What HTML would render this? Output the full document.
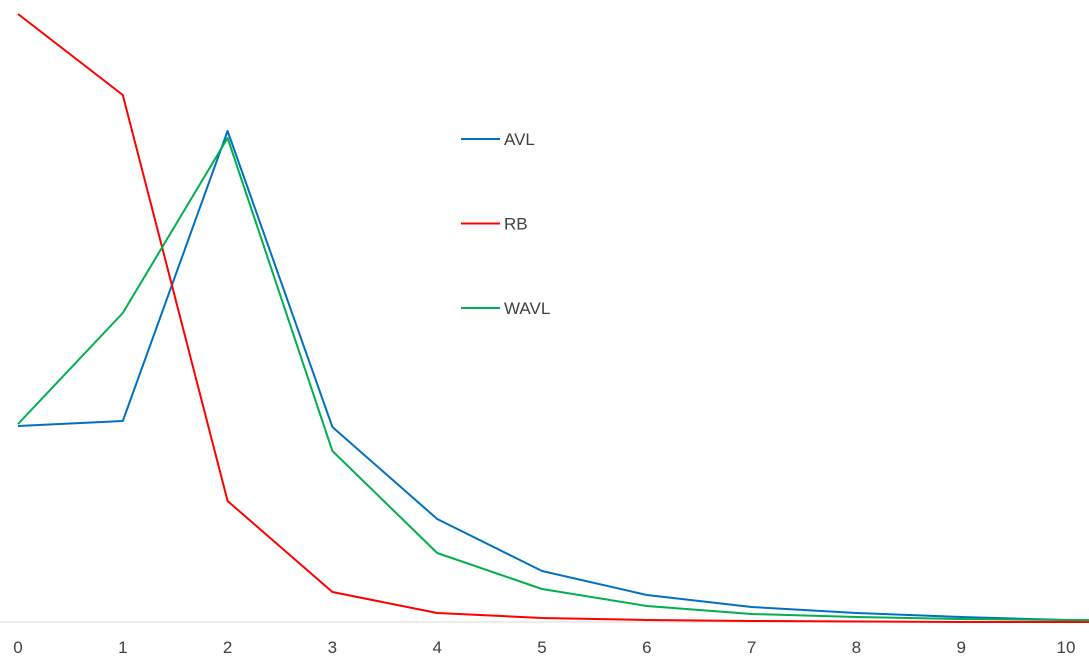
<!DOCTYPE html>
<html><head><meta charset="utf-8"><style>
body{margin:0;background:#fff;overflow:hidden;}
svg{display:block;font-family:"Liberation Sans",sans-serif;}
</style></head><body>
<svg id="chart" width="1089" height="664"></svg>
<script>
const categories=[0,1,2,3,4,5,6,7,8,9,10,11];
const avl=[196,201,491,195,103,51,27,15,9,5,2,1];
const rb=[608,527,121,30,9,4,2,1,0.5,0,0,0];
const wavl=[198,309,484,171,69,33,16,8,5,3,2,1];
const seriesNames=["AVL","RB","WAVL"];
const seriesColors=["#0070C0","#FF0000","#00B050"];
const NS="http://www.w3.org/2000/svg";
const svg=document.getElementById('chart');
const x=i=>18+i*104.8;
const y=v=>622-v;
function mk(t,a){const e=document.createElementNS(NS,t);for(const k in a)e.setAttribute(k,a[k]);svg.appendChild(e);return e;}
const ax=mk('line',{x1:0,x2:1089,y1:622,y2:622,stroke:'#d9d9d9','stroke-width':1});


categories.forEach((c,i)=>{
 if(x(i)>1089)return;
 const t=mk('text',{x:x(i),y:653,'text-anchor':'middle','font-size':17,fill:'#404040'});
 t.textContent=c;
 
 
});
[avl,rb,wavl].forEach((s,k)=>{
 const p=mk('polyline',{points:s.map((v,i)=>x(i)+','+y(v)).join(' '),fill:'none',stroke:seriesColors[k],'stroke-width':2,'stroke-linejoin':'round'});
 
 
 const ly=139+k*84.5;
 const l=mk('line',{x1:461,x2:500,y1:ly,y2:ly,stroke:seriesColors[k],'stroke-width':2});
 
 
 const t=mk('text',{x:504,y:ly+6,'font-size':17,fill:'#404040'});
 t.textContent=seriesNames[k];
 
 
});
</script>
</body></html>
